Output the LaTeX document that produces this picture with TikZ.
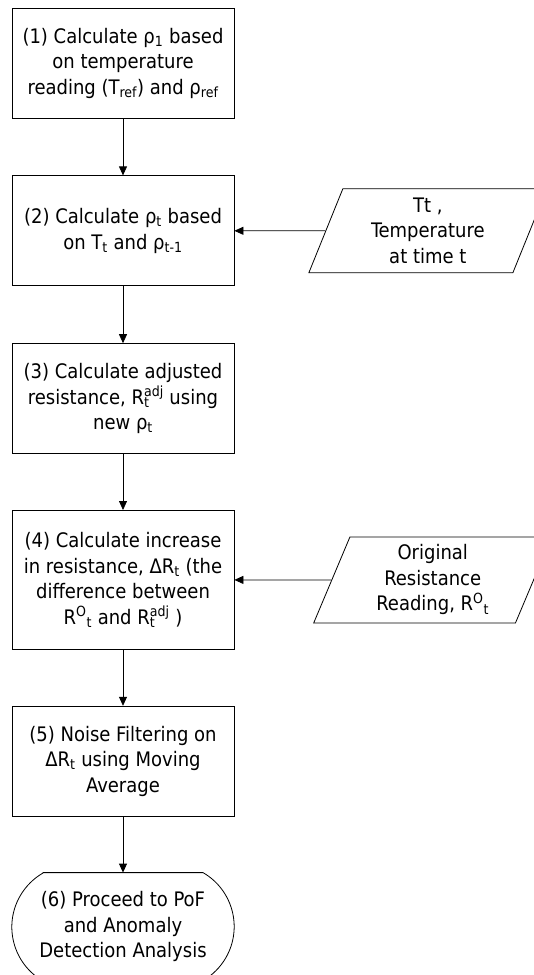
\documentclass[tikz,border=0pt]{standalone}
\usepackage{fontspec}
\setmainfont{DejaVu Sans Condensed}
\usepackage{tikz}
\usetikzlibrary{arrows.meta,positioning,shapes.geometric}

\newcommand{\Radj}{R\rlap{\textsubscript{t}}\textsuperscript{adj}}
\newcommand{\ROt}{R\textsuperscript{O}\textsubscript{t}}

\begin{document}
\begin{tikzpicture}[
  node distance = 57pt,
  txt/.style    = {align=center, font=\fontsize{20}{25.5}\selectfont},
  stepbox/.style = {draw, txt, line width=0.8pt,
                    minimum width=222pt, minimum height=110pt, inner sep=2pt},
  inbox/.style  = {draw, txt, line width=0.8pt, trapezium,
                   trapezium left angle=63.4, trapezium right angle=116.6,
                   trapezium stretches body,
                   minimum width=238pt, minimum height=84pt, inner sep=1pt},
  endbox/.style = {txt, minimum width=222pt, minimum height=108pt, inner sep=1pt},
  arr/.style    = {-{Triangle[length=9pt,width=8pt]}, line width=0.8pt},
]
\useasboundingbox (0,0) rectangle (534pt,-975pt);

%% -- main steps --------------------------------------------------------
\node[stepbox] (step1) at (123pt,-63pt)
  {(1) Calculate ρ\textsubscript{1} based\\on temperature\\reading (T\textsubscript{ref}) and ρ\textsubscript{ref}};
\node[stepbox, below=of step1] (step2)
  {(2) Calculate ρ\textsubscript{t} based\\on T\textsubscript{t} and ρ\textsubscript{t-1}};
\node[stepbox, below=of step2] (step3)
  {(3) Calculate adjusted\\resistance, \Radj{} using\\new ρ\textsubscript{t}};
\node[stepbox, below=56pt of step3, minimum height=139pt] (step4)
  {(4) Calculate increase\\in resistance, ΔR\textsubscript{t} (the\\difference between\\\ROt{} and \Radj{} )};
\node[stepbox, below=56pt of step4] (step5)
  {(5) Noise Filtering on\\ΔR\textsubscript{t} using Moving\\Average};
\node[endbox, below=56pt of step5] (proceed)
  {(6) Proceed to PoF\\and Anomaly\\Detection Analysis};
% terminal outline: flat top and bottom, circular-arc ends
\draw[line width=0.8pt] ([xshift=31.2pt]proceed.north west) -- ([xshift=-31.2pt]proceed.north east)
  arc[start angle=60, end angle=-60, radius=62.35pt]
  -- ([xshift=31.2pt]proceed.south west)
  arc[start angle=240, end angle=120, radius=62.35pt] -- cycle;

%% -- inputs ------------------------------------------------------------
\node[inbox, right=91pt of step2] (temp)
  {Tt ,\\Temperature\\at time t};
\node[inbox, right=97pt of step4, minimum height=86pt] (orig)
  {Original\\Resistance\\Reading, \ROt};

%% -- flow --------------------------------------------------------------
\draw[arr] (step1) -- (step2);
\draw[arr] (step2) -- (step3);
\draw[arr] (step3) -- (step4);
\draw[arr] (step4) -- (step5);
\draw[arr] (step5) -- (proceed);
\draw[arr] (temp) -- (step2);
\draw[arr] (orig) -- (step4);
\end{tikzpicture}
\end{document}
